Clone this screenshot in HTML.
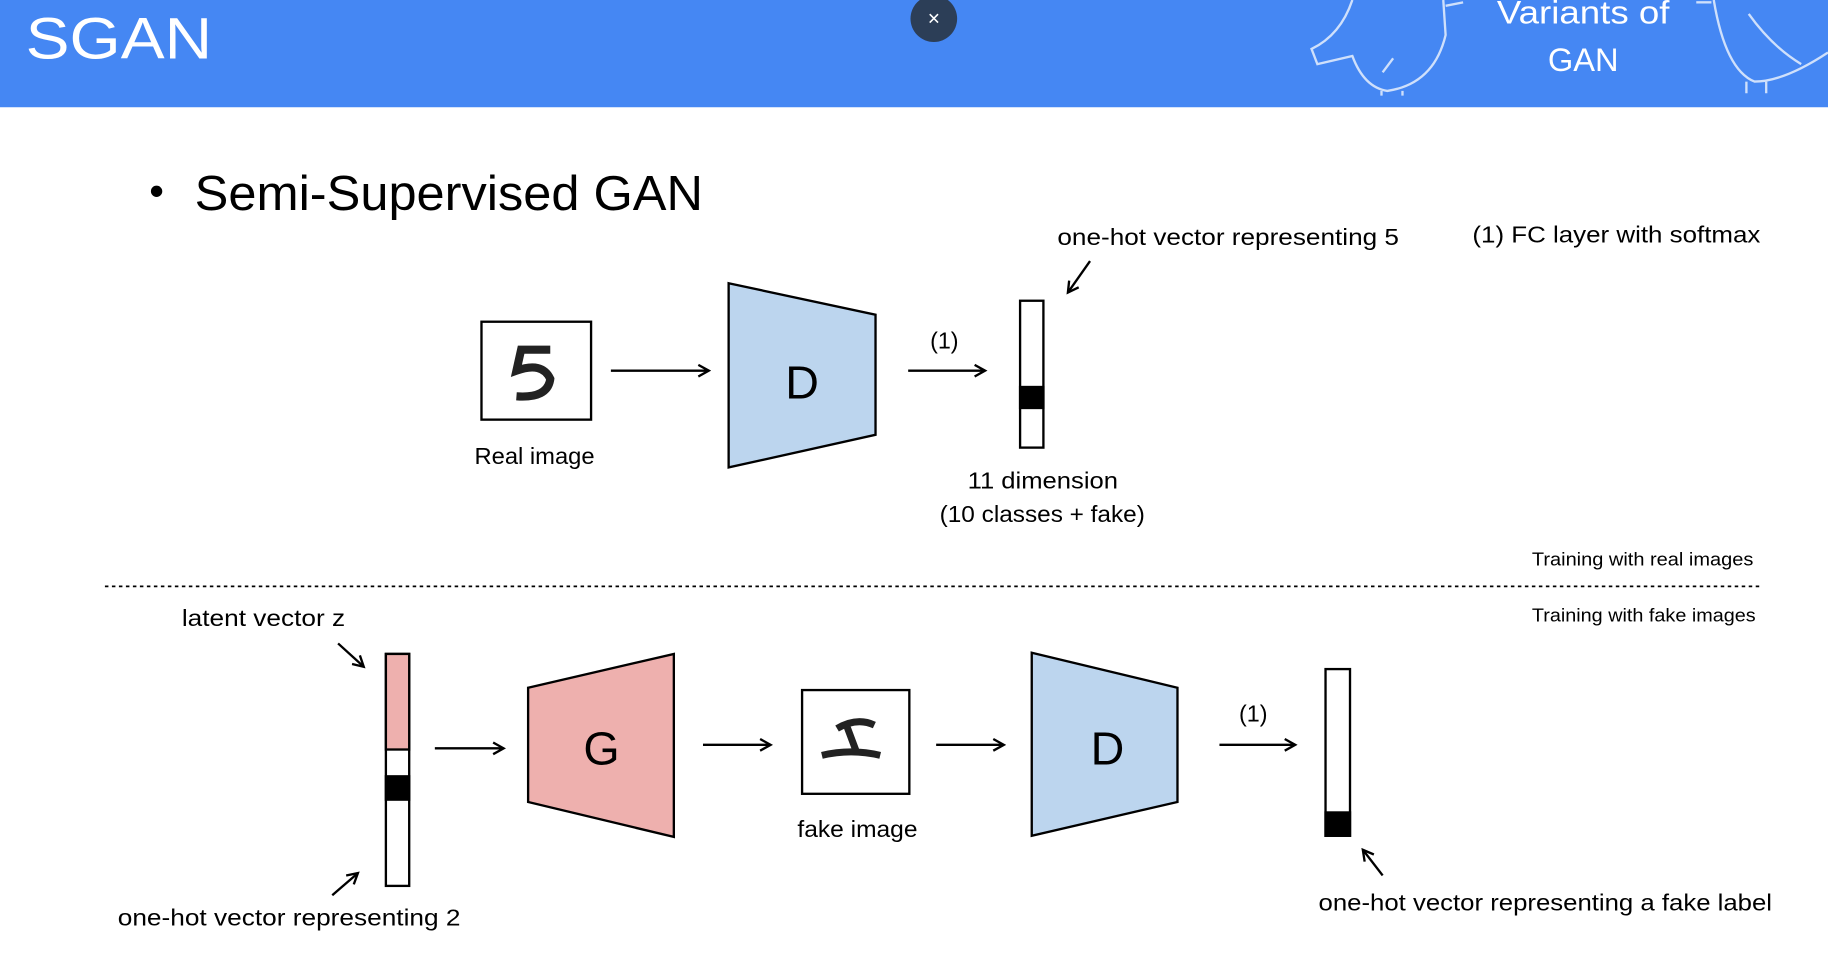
<!DOCTYPE html>
<html><head><meta charset="utf-8"><style>
html,body{margin:0;padding:0;background:#fff;width:1828px;height:957px;overflow:hidden}
svg{display:block}
text{font-family:"Liberation Sans",sans-serif}
</style></head><body>
<svg width="1828" height="957" viewBox="0 0 1568 821" preserveAspectRatio="none" xmlns="http://www.w3.org/2000/svg">
<defs><marker id="a" markerWidth="12" markerHeight="12" refX="10" refY="6" orient="auto" markerUnits="userSpaceOnUse"><path d="M1,1 L10,6 L1,11" fill="none" stroke="#000" stroke-width="2"/></marker></defs>
<rect x="0" y="0" width="1568" height="92" fill="#4587f3"/>
<text x="22" y="50" font-size="50" fill="#fff" textLength="160" lengthAdjust="spacingAndGlyphs">SGAN</text>
<circle cx="801" cy="16" r="20" fill="#2c3e57"/>
<text x="801" y="22" font-size="18" fill="#fff" text-anchor="middle">×</text>
<g fill="none" stroke="#cfe0fb" stroke-width="2">
<path d="M1160,0 Q1150,30 1125,42 L1130,55 L1160,48 Q1170,75 1190,78 Q1230,72 1240,30 L1238,0"/>
<path d="M1240,5 L1255,2"/><path d="M1186,62 L1195,50"/>
<path d="M1185,78 L1185,82 M1203,78 L1203,82"/>
<path d="M1470,0 Q1480,60 1505,70 Q1530,70 1568,45"/><path d="M1500,12 Q1520,40 1545,55"/>
<path d="M1498,70 L1498,80 M1515,70 L1515,80"/><path d="M1455,2 L1468,2"/>
</g>
<text x="1284" y="20" font-size="28" fill="#fff" textLength="148" lengthAdjust="spacingAndGlyphs">Variants of</text>
<text x="1358" y="61" font-size="28" fill="#fff" text-anchor="middle">GAN</text>
<text x="128" y="176" font-size="36">•</text>
<text x="167" y="180" font-size="42" textLength="436" lengthAdjust="spacingAndGlyphs">Semi-Supervised GAN</text>
<g stroke="#000" stroke-width="2" fill="none">
<rect x="413" y="276" width="94" height="84" fill="#fff"/>
<path d="M472,300 L447,300 L443,318 Q465,310 472,325 Q470,342 443,340" stroke-width="7" stroke="#222"/>
<path d="M524,318 L608,318" marker-end="url(#a)"/>
<polygon points="625,243 751,270 751,373 625,401" fill="#bcd5ee"/>
<path d="M779,318 L845,318" marker-end="url(#a)"/>
<rect x="875" y="258" width="20" height="126" fill="#fff"/>
<rect x="875" y="332" width="20" height="18" fill="#000"/>
<path d="M935,224 L916,251" marker-end="url(#a)"/>
<path d="M90,503 L1510,503" stroke-dasharray="3,3" stroke-width="1.5"/>
<path d="M290,552 L312,572" marker-end="url(#a)"/>
<rect x="331" y="561" width="20" height="199" fill="#fff"/>
<rect x="331" y="561" width="20" height="82" fill="#eeb0ae"/>
<rect x="331" y="666" width="20" height="20" fill="#000"/>
<path d="M285,768 L307,749" marker-end="url(#a)"/>
<path d="M373,642 L432,642" marker-end="url(#a)"/>
<polygon points="453,590 578,561 578,718 453,688" fill="#eeb0ae"/>
<path d="M603,639 L661,639" marker-end="url(#a)"/>
<rect x="688" y="592" width="92" height="89" fill="#fff"/>
<path d="M705,648 Q730,642 755,648 M726,622 L735,646 M718,625 Q735,615 750,622" stroke-width="6" stroke="#222"/>
<path d="M803,639 L861,639" marker-end="url(#a)"/>
<polygon points="885,560 1010,590 1010,688 885,717" fill="#bcd5ee"/>
<path d="M1046,639 L1111,639" marker-end="url(#a)"/>
<rect x="1137" y="574" width="21" height="143" fill="#fff"/>
<rect x="1137" y="697" width="21" height="20" fill="#000"/>
<path d="M1186,751 L1169,729" marker-end="url(#a)"/>
</g>
<text x="407" y="398" font-size="20" textLength="103" lengthAdjust="spacingAndGlyphs">Real image</text>
<text x="688" y="342" font-size="40" text-anchor="middle">D</text>
<text x="810" y="299" font-size="20" text-anchor="middle">(1)</text>
<text x="830" y="419" font-size="20" textLength="129" lengthAdjust="spacingAndGlyphs">11 dimension</text>
<text x="806" y="448" font-size="20" textLength="176" lengthAdjust="spacingAndGlyphs">(10 classes + fake)</text>
<text x="907" y="210" font-size="20" textLength="293" lengthAdjust="spacingAndGlyphs">one-hot vector representing 5</text>
<text x="1263" y="208" font-size="20" textLength="247" lengthAdjust="spacingAndGlyphs">(1) FC layer with softmax</text>
<text x="1314" y="485" font-size="16" textLength="190" lengthAdjust="spacingAndGlyphs">Training with real images</text>
<text x="1314" y="533" font-size="16" textLength="192" lengthAdjust="spacingAndGlyphs">Training with fake images</text>
<text x="156" y="537" font-size="20" textLength="140" lengthAdjust="spacingAndGlyphs">latent vector z</text>
<text x="101" y="794" font-size="20" textLength="294" lengthAdjust="spacingAndGlyphs">one-hot vector representing 2</text>
<text x="516" y="656" font-size="40" text-anchor="middle">G</text>
<text x="684" y="718" font-size="20" textLength="103" lengthAdjust="spacingAndGlyphs">fake image</text>
<text x="950" y="656" font-size="40" text-anchor="middle">D</text>
<text x="1075" y="619" font-size="20" text-anchor="middle">(1)</text>
<text x="1131" y="781" font-size="20" textLength="389" lengthAdjust="spacingAndGlyphs">one-hot vector representing a fake label</text>
</svg>
</body></html>
